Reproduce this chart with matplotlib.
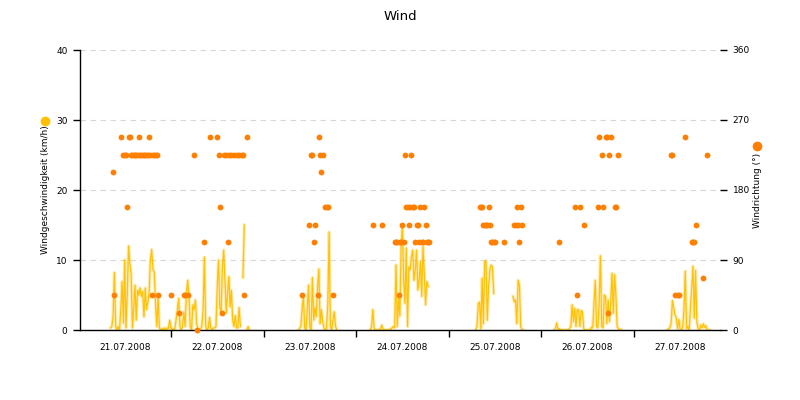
import matplotlib
matplotlib.use("Agg")
import matplotlib.pyplot as plt
import matplotlib.dates as mdates
import numpy as np
import pandas as pd

nan = np.nan

# wind speed (km/h), 20-minute readings, one list per stretch of data
speed_21_start = "2008-07-21 08:20"
speed_21 = [
    0.3, 0.5, 2, 8.2, 0.5, 0, 0.5, 0, 3, 6.9,
    1, 10, 0.3, 5, 12, 9.5, 8, 0.3, 3, 6.4,
    1.4, 5.7, 5, 6, 4.8, 5.5, 1.9, 6, 2.9, 4,
    5.2, 10, 11.5, 8.6, 8.3, 3.8, 0.5, 4.8, 0.3, 0,
    0.2, 0, 0.3, 0, 0.3, 0.2, 1.4, 0.3,
    0, 0.2, 0.1, 1.5, 2.9, 4.5, 0.5, 0, 0.5, 2.6,
    0.5, 5.2, 7.1, 4.8, 0.5, 0, 3.6, 2.9, 4.3, 0.9,
    0, 0, 0.2, 0.5, 2.9, 10.4, 0.5, 0, 0.3, 1.8,
    0.2, 0, 0.3, 0.3, 0.5, 6.2, 10, 3.3, 2.4, 9,
    11.4, 7.1, 2.4, 5.2, 7.6, 3.3, 5.7, 1.4, 0.5, 2.1,
    0.3, 0.3, 3.2, 0.5,
    nan, 7.5, 15, nan, 0, 0.5, 0,
]
speed_23_start = "2008-07-23 09:00"
speed_23 = [0, 0.2, 0.5, 3, 5, 0.3, 0, 3, 6.4, 0.5, 0, 7.5, 1.4, 3.2, 1.9, 6,
            8.7, 0.9, 2.9, 1.2, 0.3, 0, 0.2, 3.8, 14, 0.5, 0, 1.4, 2.6, 0.5, 0]
speed_24_start = "2008-07-24 03:40"
speed_24 = [0, 0.5, 2.9, 0.3, 0, 0, 0, 0, 0.2, 0.7, 0, 0, 0, 0, 0, 0,
            0.2, 0.3, 0.5, 0.3, 9.3, 0.5, 4.5, 2, 11.9, 14.8, 7.1, 3.8, 11.7,
            0.5, 9, 8.6, 10.5, 11.4, 7.1, 8.6, 11.4, 5.7, 7.1, 9.8, 4.8, 11.9,
            8.1, 3.6, 6.9, 6.2]
speed_25a_start = "2008-07-25 07:00"
speed_25a = [0, 0.5, 3.8, 4, 0.2, 7.4, 0.9, 9.8, 9.9, 1.4, 6.2, 8.6, 9.3, 9, 5.2]
speed_25b_start = "2008-07-25 16:40"
speed_25b = [4.8, 4.0, 4.3, 0.9, 7.1, 6.4, 0.5, 0, 0]
speed_26_start = "2008-07-26 03:20"
speed_26 = [0, 0.2, 1, 0, 0.2, 0, 0, 0, 0, 0, 0, 0, 0.2, 0.5, 3.6, 1.2, 3.1,
            0.5, 2.9, 2.9, 0.5, 2.8, 2.6, 0.2, 0, 0, 0, 0, 0, 0.4, 0.3, 3.8,
            7.1, 0.5, 0.3, 3.8, 10.6, 0.5, 0.3, 5, 4.8, 0.9, 4.3, 1.2, 3.8,
            8.1, 2.4, 7.9, 5.2, 0.5, 0.2, 0, 0.1]
speed_27_start = "2008-07-27 08:40"
speed_27 = [0, 0.2, 0.3, 1, 4.2, 3.2, 2.2, 1.7, 0.2, 1.5, 0, 0, 0.4, 3, 8.4,
            0.2, 0.5, 0, 3.2, 6, 9.1, 1.7, 8.5, 1.1, 0.2, 0, 0.7, 0.3, 0.9,
            0.4, 0.6, 0, 0, 0]

# wind direction (degrees)
dir_times = [
    "07-21 09:00", "07-21 09:20", "07-21 11:00", "07-21 11:40", "07-21 12:00",
    "07-21 12:20", "07-21 12:40", "07-21 13:00", "07-21 13:20", "07-21 13:40",
    "07-21 14:00", "07-21 14:20", "07-21 14:40", "07-21 15:00", "07-21 15:20",
    "07-21 15:40", "07-21 16:00", "07-21 16:20", "07-21 16:40", "07-21 17:00",
    "07-21 17:20", "07-21 17:40", "07-21 18:00", "07-21 18:20", "07-21 18:40",
    "07-21 19:00", "07-21 19:20", "07-21 19:40", "07-21 20:00", "07-21 20:20",
    "07-21 20:40",
    "07-22 00:00", "07-22 02:00", "07-22 03:20", "07-22 03:40", "07-22 04:20",
    "07-22 06:00", "07-22 06:40", "07-22 08:40", "07-22 10:00", "07-22 12:00",
    "07-22 12:20", "07-22 12:40", "07-22 13:20", "07-22 13:40", "07-22 14:20",
    "07-22 14:40", "07-22 15:00", "07-22 15:40", "07-22 16:20", "07-22 17:00",
    "07-22 17:40", "07-22 18:20", "07-22 18:40", "07-22 19:00", "07-22 19:40",
    "07-23 10:00", "07-23 11:40", "07-23 12:20", "07-23 12:40", "07-23 13:00",
    "07-23 13:20", "07-23 14:00", "07-23 14:20", "07-23 14:40", "07-23 15:00",
    "07-23 15:20", "07-23 16:00", "07-23 16:20", "07-23 16:40", "07-23 18:00",
    "07-24 04:20", "07-24 06:40", "07-24 10:00", "07-24 10:20", "07-24 10:40",
    "07-24 11:00", "07-24 11:20", "07-24 11:40", "07-24 12:00", "07-24 12:20",
    "07-24 12:40", "07-24 13:00", "07-24 13:20", "07-24 13:40", "07-24 14:00",
    "07-24 14:20", "07-24 14:40", "07-24 15:00", "07-24 15:20", "07-24 15:40",
    "07-24 16:00", "07-24 16:20", "07-24 16:40", "07-24 17:00", "07-24 17:20",
    "07-24 17:40", "07-24 18:00", "07-24 18:20", "07-24 18:40", "07-24 19:00",
    "07-25 08:00", "07-25 08:20", "07-25 08:40", "07-25 09:00", "07-25 09:20",
    "07-25 09:40", "07-25 10:00", "07-25 10:20", "07-25 10:40", "07-25 11:00",
    "07-25 11:20", "07-25 11:40", "07-25 12:00", "07-25 14:20", "07-25 17:00",
    "07-25 17:20", "07-25 17:40", "07-25 18:00", "07-25 18:20", "07-25 18:40",
    "07-25 19:00",
    "07-26 04:40", "07-26 08:40", "07-26 09:20", "07-26 10:00", "07-26 11:00",
    "07-26 14:40", "07-26 15:00", "07-26 15:40", "07-26 16:00", "07-26 16:40",
    "07-26 17:00", "07-26 17:20", "07-26 17:40", "07-26 18:00", "07-26 19:00",
    "07-26 19:20", "07-26 20:00",
    "07-27 09:40", "07-27 10:00", "07-27 10:40", "07-27 11:20", "07-27 11:40",
    "07-27 13:20", "07-27 15:00", "07-27 15:20", "07-27 15:40", "07-27 16:00",
    "07-27 18:00", "07-27 19:00",
]
dir_deg = [
    202.5, 45, 247.5, 225, 225, 225, 157.5, 247.5, 247.5, 225,
    225, 225, 225, 225, 225, 247.5, 225, 225, 225, 225,
    225, 225, 225, 247.5, 225, 45, 225, 225, 225, 225,
    45,
    45, 22.5, 45, 45, 45, 225, 0, 112.5, 247.5, 247.5,
    225, 157.5, 22.5, 225, 225, 112.5, 225, 225, 225, 225,
    225, 225, 225, 45, 247.5,
    45, 135, 225, 225, 112.5, 135, 45, 247.5, 225, 202.5,
    225, 157.5, 157.5, 157.5, 45,
    135, 135, 112.5, 112.5, 112.5, 45, 112.5, 112.5, 135, 112.5,
    225, 157.5, 157.5, 135, 157.5, 225, 157.5, 157.5, 112.5, 135,
    135, 112.5, 157.5, 112.5, 112.5, 157.5, 135, 112.5, 112.5, 112.5,
    157.5, 157.5, 157.5, 135, 135, 135, 135, 157.5, 135, 112.5,
    112.5, 112.5, 112.5, 112.5, 135, 135, 157.5, 135, 112.5, 157.5,
    135,
    112.5, 157.5, 45, 157.5, 135, 157.5, 247.5, 225, 157.5, 247.5,
    247.5, 22.5, 225, 247.5, 157.5, 157.5, 225,
    225, 225, 45, 45, 45, 247.5, 112.5, 112.5, 112.5, 135,
    67.5, 225,
]

day_labels = ["21.07.2008", "22.07.2008", "23.07.2008", "24.07.2008",
              "25.07.2008", "26.07.2008", "27.07.2008"]

speed_color = "#FFC000"
dir_color = "#FF8000"

plt.rcParams["font.family"] = ["DejaVu Sans"]

fig = plt.figure(figsize=(8, 4), dpi=100)
ax = fig.add_axes([0.1, 0.175, 0.8, 0.7])
ax2 = ax.twinx()

segments = [
    (speed_21_start, speed_21), (speed_23_start, speed_23),
    (speed_24_start, speed_24), (speed_25a_start, speed_25a),
    (speed_25b_start, speed_25b), (speed_26_start, speed_26),
    (speed_27_start, speed_27),
]
for start, vals in segments:
    t = pd.date_range(start, periods=len(vals), freq="20min")
    ax.plot(t, vals, color=speed_color, lw=2.4, alpha=0.3, solid_joinstyle="round")
    ax.plot(t, vals, color=speed_color, lw=0.9, alpha=0.95)

dt = pd.to_datetime(["2008-" + s for s in dir_times])
ax2.plot(dt, dir_deg, "o", color=dir_color, markersize=4.2,
         markeredgewidth=0, clip_on=False, zorder=5)

ax.set_ylim(0, 40)
ax.set_yticks([0, 10, 20, 30, 40])
ax2.set_ylim(0, 360)
ax2.set_yticks([0, 90, 180, 270, 360])
ax.set_xlim(pd.Timestamp("2008-07-21 00:25"), pd.Timestamp("2008-07-27 22:20"))

ax.yaxis.grid(True, color="#d8d8d8", lw=0.8, linestyle=(0, (5, 4)))
ax.set_axisbelow(True)

# day boundaries as unlabeled ticks, day names at noon
ax.xaxis.set_major_locator(mdates.DayLocator())
ax.xaxis.set_major_formatter(plt.NullFormatter())
noons = pd.date_range("2008-07-21 12:00", periods=len(day_labels), freq="D")
ax.set_xticks(noons, minor=True)
ax.set_xticklabels(day_labels, minor=True)
ax.tick_params(axis="x", which="major", length=5, width=1, color="black")
ax.tick_params(axis="x", which="minor", length=0, pad=9, labelsize=6.5)
ax.tick_params(axis="y", length=5, width=1, pad=4, labelsize=6.5)
ax2.tick_params(axis="y", length=5, width=1, pad=4, labelsize=6.5)

for a in (ax, ax2):
    a.spines["top"].set_visible(False)
    a.spines["right"].set_visible(False)
ax2.spines["left"].set_visible(False)
ax2.spines["bottom"].set_visible(False)
ax.spines["left"].set_linewidth(1)
ax.spines["bottom"].set_linewidth(1)

fig.text(0.5, 0.96, "Wind", ha="center", va="center", fontsize=9.5)
fig.text(0.0575, 0.525, "Windgeschwindigkeit (km/h)", rotation=90,
         ha="center", va="center", fontsize=6.5)
fig.text(0.9475, 0.525, "Windrichtung (°)", rotation=90,
         ha="center", va="center", fontsize=6.5)
fig.add_artist(plt.Line2D([0.056], [0.6975], marker="o", color=speed_color,
                          markersize=7, markeredgewidth=0, transform=fig.transFigure))
fig.add_artist(plt.Line2D([0.946], [0.635], marker="o", color=dir_color,
                          markersize=7, markeredgewidth=0, transform=fig.transFigure))

fig.savefig("out.png", dpi=100)
plt.close(fig)
